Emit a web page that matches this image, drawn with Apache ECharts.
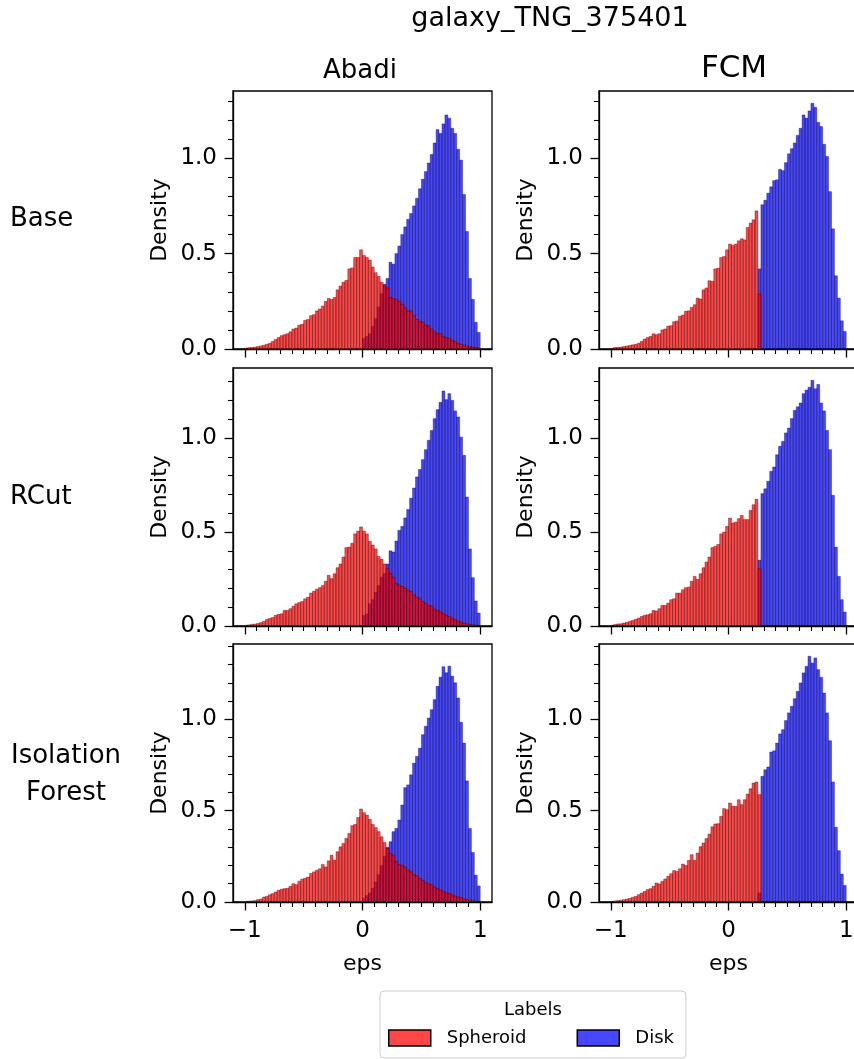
<!DOCTYPE html>
<html>
<head>
<meta charset="utf-8">
<script src="https://cdn.jsdelivr.net/npm/echarts@6/dist/echarts.min.js"></script>
<style>
  html, body { margin: 0; padding: 0; background: #ffffff; }
  #chart { width: 854px; height: 1059px; }
</style>
</head>
<body>
<div id="chart"></div>
<script>
// ---- histogram binning (eps from -1 to 1, 80 bins) ----
const BIN_MIN = -1;
const BIN_WIDTH = 0.025;

const figureTitle = 'galaxy_TNG_375401';
const methodNames = ['Abadi', 'FCM'];
const rowNames = ['Base', 'RCut', 'Isolation\nForest'];
const labelNames = ['Spheroid', 'Disk'];
const xTickValues = [-1, 0, 1];
const yTickValues = [0, 0.5, 1.0];

// ---- densities per bin; each series lists its first bin index ----
// Abadi / Base
const abadiBaseSpheroidFirst = 0;
const abadiBaseSpheroid = [
  0.005, 0.007, 0.008, 0.01, 0.013, 0.016, 0.02, 0.025, 0.03, 0.04,
  0.05, 0.06, 0.07, 0.075, 0.08, 0.09, 0.105, 0.11, 0.125, 0.13,
  0.15, 0.155, 0.175, 0.18, 0.2, 0.21, 0.225, 0.25, 0.265, 0.26,
  0.27, 0.31, 0.33, 0.35, 0.36, 0.42, 0.425, 0.48, 0.48, 0.52,
  0.49, 0.48, 0.466, 0.43, 0.40, 0.38, 0.35, 0.33, 0.32, 0.27,
  0.265, 0.26, 0.25, 0.235, 0.215, 0.2, 0.2, 0.175, 0.155, 0.145,
  0.14, 0.125, 0.12, 0.105, 0.09, 0.08, 0.08, 0.065, 0.06, 0.055,
  0.045, 0.04, 0.03, 0.025, 0.02, 0.015, 0.012, 0.01, 0.007, 0.004
];
const abadiBaseDiskFirst = 40;
const abadiBaseDisk = [
  0.055, 0.065, 0.08, 0.12, 0.16, 0.22, 0.29, 0.34, 0.37, 0.455,
  0.445, 0.50, 0.54, 0.60, 0.64, 0.68, 0.71, 0.75, 0.79, 0.84,
  0.89, 0.93, 0.975, 1.02, 1.08, 1.15, 1.13, 1.18, 1.227, 1.21,
  1.157, 1.13, 1.047, 0.99, 0.81, 0.616, 0.37, 0.26, 0.14, 0.087
];
// FCM / Base
const fcmBaseSpheroidFirst = 0;
const fcmBaseSpheroid = [
  0.003, 0.008, 0.009, 0.01, 0.013, 0.016, 0.019, 0.022, 0.025, 0.03,
  0.04, 0.052, 0.06, 0.066, 0.08, 0.075, 0.08, 0.1, 0.105, 0.12,
  0.122, 0.143, 0.147, 0.172, 0.178, 0.198, 0.2, 0.218, 0.232, 0.267,
  0.262, 0.31, 0.32, 0.358, 0.355, 0.42, 0.424, 0.48, 0.485, 0.52,
  0.55, 0.543, 0.55, 0.567, 0.578, 0.572, 0.637, 0.66, 0.677, 0.724,
  0.288
];
const fcmBaseDiskFirst = 50;
const fcmBaseDisk = [
  0.42, 0.756, 0.78, 0.817, 0.85, 0.883, 0.887, 0.942, 0.935, 0.977,
  1.023, 1.05, 1.08, 1.12, 1.157, 1.227, 1.21, 1.248, 1.288, 1.267,
  1.188, 1.166, 1.073, 1.009, 0.825, 0.63, 0.384, 0.267, 0.148, 0.092
];
// Abadi / RCut
const abadiRCutSpheroidFirst = 0;
const abadiRCutSpheroid = [
  0.004, 0.006, 0.009, 0.01, 0.014, 0.018, 0.025, 0.035, 0.04, 0.045,
  0.057, 0.062, 0.065, 0.083, 0.083, 0.092, 0.105, 0.118, 0.125, 0.13,
  0.145, 0.154, 0.175, 0.185, 0.196, 0.204, 0.215, 0.238, 0.27, 0.252,
  0.278, 0.31, 0.33, 0.367, 0.417, 0.42, 0.44, 0.49, 0.505, 0.527,
  0.505, 0.49, 0.45, 0.43, 0.41, 0.37, 0.355, 0.33, 0.305, 0.278,
  0.26, 0.225, 0.218, 0.21, 0.2, 0.19, 0.184, 0.165, 0.154, 0.145,
  0.13, 0.12, 0.11, 0.105, 0.09, 0.083, 0.075, 0.066, 0.057, 0.05,
  0.042, 0.034, 0.025, 0.02, 0.014, 0.011, 0.008, 0.007, 0.005, 0.003
];
const abadiRCutDiskFirst = 40;
const abadiRCutDisk = [
  0.057, 0.065, 0.119, 0.14, 0.18, 0.215, 0.26, 0.278, 0.33, 0.40,
  0.394, 0.452, 0.509, 0.53, 0.575, 0.62, 0.68, 0.734, 0.793, 0.833,
  0.885, 0.938, 0.988, 1.04, 1.103, 1.151, 1.19, 1.25, 1.204, 1.236,
  1.2, 1.144, 1.112, 1.005, 0.908, 0.686, 0.41, 0.257, 0.133, 0.069
];
// FCM / RCut
const fcmRCutSpheroidFirst = 0;
const fcmRCutSpheroid = [
  0.004, 0.008, 0.011, 0.012, 0.016, 0.02, 0.025, 0.03, 0.036, 0.042,
  0.051, 0.057, 0.06, 0.065, 0.083, 0.08, 0.092, 0.11, 0.11, 0.122,
  0.14, 0.145, 0.175, 0.175, 0.193, 0.204, 0.207, 0.238, 0.264, 0.248,
  0.278, 0.31, 0.34, 0.367, 0.417, 0.424, 0.434, 0.49, 0.5, 0.53,
  0.574, 0.548, 0.553, 0.571, 0.589, 0.566, 0.566, 0.615, 0.645, 0.674,
  0.305
];
const fcmRCutDiskFirst = 50;
const fcmRCutDisk = [
  0.35, 0.704, 0.73, 0.77, 0.823, 0.846, 0.911, 0.956, 0.982, 1.027,
  1.053, 1.103, 1.147, 1.166, 1.186, 1.236, 1.255, 1.27, 1.307, 1.262,
  1.285, 1.186, 1.144, 1.04, 0.938, 0.695, 0.42, 0.264, 0.14, 0.074
];
// Abadi / Isolation Forest
const abadiIsoSpheroidFirst = 0;
const abadiIsoSpheroid = [
  0.003, 0.005, 0.006, 0.008, 0.013, 0.016, 0.027, 0.031, 0.04, 0.046,
  0.055, 0.064, 0.07, 0.073, 0.075, 0.086, 0.1, 0.095, 0.114, 0.125,
  0.13, 0.137, 0.156, 0.165, 0.174, 0.182, 0.205, 0.192, 0.225, 0.256,
  0.229, 0.275, 0.302, 0.32, 0.348, 0.375, 0.418, 0.425, 0.463, 0.509,
  0.489, 0.476, 0.452, 0.425, 0.407, 0.385, 0.357, 0.326, 0.293, 0.266,
  0.256, 0.22, 0.205, 0.2, 0.192, 0.174, 0.165, 0.15, 0.143, 0.128,
  0.118, 0.106, 0.1, 0.095, 0.082, 0.073, 0.066, 0.059, 0.051, 0.046,
  0.04, 0.033, 0.028, 0.024, 0.018, 0.013, 0.01, 0.007, 0.005, 0.003
];
const abadiIsoDiskFirst = 40;
const abadiIsoDisk = [
  0.02, 0.035, 0.05, 0.075, 0.11, 0.15, 0.2, 0.25, 0.3, 0.33,
  0.385, 0.403, 0.449, 0.531, 0.626, 0.641, 0.696, 0.76, 0.797, 0.842,
  0.916, 0.962, 1.007, 1.053, 1.108, 1.181, 1.231, 1.288, 1.255, 1.291,
  1.236, 1.2, 1.117, 0.984, 0.87, 0.663, 0.403, 0.271, 0.147, 0.088
];
// FCM / Isolation Forest
const fcmIsoSpheroidFirst = 0;
const fcmIsoSpheroid = [
  0.004, 0.006, 0.008, 0.01, 0.013, 0.016, 0.02, 0.026, 0.031, 0.04,
  0.049, 0.058, 0.068, 0.073, 0.086, 0.104, 0.099, 0.113, 0.126, 0.141,
  0.155, 0.172, 0.168, 0.182, 0.208, 0.2, 0.228, 0.259, 0.228, 0.268,
  0.303, 0.323, 0.347, 0.372, 0.412, 0.427, 0.429, 0.469, 0.511, 0.505,
  0.542, 0.524, 0.524, 0.56, 0.533, 0.56, 0.591, 0.62, 0.651, 0.657,
  0.588
];
const fcmIsoDiskFirst = 50;
const fcmIsoDisk = [
  0.05, 0.688, 0.724, 0.739, 0.821, 0.828, 0.87, 0.92, 0.943, 0.993,
  1.035, 1.071, 1.113, 1.153, 1.199, 1.254, 1.29, 1.345, 1.308, 1.336,
  1.272, 1.23, 1.144, 1.035, 0.883, 0.657, 0.409, 0.281, 0.153, 0.091
];

// panels in row-major order: [row][column]
const panels = [
  [
    { spheroid: abadiBaseSpheroid, spheroidFirst: abadiBaseSpheroidFirst, disk: abadiBaseDisk, diskFirst: abadiBaseDiskFirst },
    { spheroid: fcmBaseSpheroid, spheroidFirst: fcmBaseSpheroidFirst, disk: fcmBaseDisk, diskFirst: fcmBaseDiskFirst }
  ],
  [
    { spheroid: abadiRCutSpheroid, spheroidFirst: abadiRCutSpheroidFirst, disk: abadiRCutDisk, diskFirst: abadiRCutDiskFirst },
    { spheroid: fcmRCutSpheroid, spheroidFirst: fcmRCutSpheroidFirst, disk: fcmRCutDisk, diskFirst: fcmRCutDiskFirst }
  ],
  [
    { spheroid: abadiIsoSpheroid, spheroidFirst: abadiIsoSpheroidFirst, disk: abadiIsoDisk, diskFirst: abadiIsoDiskFirst },
    { spheroid: fcmIsoSpheroid, spheroidFirst: fcmIsoSpheroidFirst, disk: fcmIsoDisk, diskFirst: fcmIsoDiskFirst }
  ]
];

// ---- layout & style ----
const FONT = 'DejaVu Sans';
const GRID_LEFT = [233, 599];
const GRID_WIDTH = 259;
const ROW_TOP = [91, 368, 644];
const GRID_HEIGHT = 258;
const X_MIN = -1.1, X_MAX = 1.1;
const AXIS_LW = 1.3;
const MAJOR_TICK = 8.5, MINOR_TICK = 5;
const SPHEROID_FILL = 'rgba(255, 0, 0, 0.72)';
const DISK_FILL = 'rgba(0, 0, 255, 0.72)';
const BAR_EDGE = 'rgba(0, 0, 0, 0.55)';

const xMinorTicks = [];
for (let k = -10; k <= 10; k++) if (k % 10 !== 0) xMinorTicks.push(k / 10);

function yMinorTicks(max) {
  const out = [];
  for (let k = 1; k / 10 <= max; k++) if (k % 5 !== 0) out.push(k / 10);
  return out;
}

function toBins(values, first) {
  return values.map((v, i) => {
    const lo = BIN_MIN + (first + i) * BIN_WIDTH;
    return [lo, lo + BIN_WIDTH, v];
  });
}

function barRenderer(fill) {
  return function (params, api) {
    const p0 = api.coord([api.value(0), 0]);
    const p1 = api.coord([api.value(1), api.value(2)]);
    return {
      type: 'rect',
      shape: { x: p0[0], y: p1[1], width: p1[0] - p0[0], height: p0[1] - p1[1] },
      style: { fill: fill, stroke: BAR_EDGE, lineWidth: 0.6 }
    };
  };
}

function fmtX(v) {
  return v < 0 ? '\u2212' + Math.abs(v) : String(v);
}

const grids = [], xAxes = [], yAxes = [], series = [];
const tickStyle = { color: '#000', width: AXIS_LW };

panels.forEach((row, r) => {
  // y limits are shared along a row, with a 5% top margin
  let rowMax = 0;
  row.forEach(p => { rowMax = Math.max(rowMax, ...p.spheroid, ...p.disk); });
  const yMax = rowMax * 1.05;
  const isBottom = r === panels.length - 1;

  row.forEach((p, c) => {
    const g = grids.length;
    grids.push({
      left: GRID_LEFT[c], top: ROW_TOP[r], width: GRID_WIDTH, height: GRID_HEIGHT,
      outerBoundsMode: 'none', containLabel: false,
      show: true, borderColor: '#000', borderWidth: AXIS_LW, backgroundColor: 'transparent'
    });
    // major x axis
    xAxes.push({
      type: 'value', gridIndex: g, position: 'bottom', min: X_MIN, max: X_MAX,
      axisLine: { show: true, onZero: false, lineStyle: tickStyle },
      axisTick: { show: true, customValues: xTickValues, length: MAJOR_TICK, lineStyle: tickStyle },
      axisLabel: {
        show: isBottom, customValues: xTickValues, formatter: fmtX, hideOverlap: false,
        fontFamily: FONT, fontSize: 23, color: '#000', margin: 18
      },
      splitLine: { show: false },
      name: isBottom ? 'eps' : '', nameLocation: 'middle', nameGap: 51,
      nameTextStyle: { fontFamily: FONT, fontSize: 22, color: '#000' }
    });
    // minor x ticks
    xAxes.push({
      type: 'value', gridIndex: g, position: 'bottom', min: X_MIN, max: X_MAX,
      axisLine: { show: false, onZero: false },
      axisTick: { show: true, customValues: xMinorTicks, length: MINOR_TICK, lineStyle: { color: '#000', width: 1.1 } },
      axisLabel: { show: false },
      splitLine: { show: false }
    });
    // major y axis
    yAxes.push({
      type: 'value', gridIndex: g, position: 'left', min: 0, max: yMax,
      axisLine: { show: true, onZero: false, lineStyle: tickStyle },
      axisTick: { show: true, customValues: yTickValues, length: MAJOR_TICK, lineStyle: tickStyle },
      axisLabel: {
        customValues: yTickValues, formatter: v => v.toFixed(1),
        fontFamily: FONT, fontSize: 23, color: '#000', margin: 16
      },
      splitLine: { show: false },
      name: 'Density', nameLocation: 'middle', nameGap: 62,
      nameTextStyle: { fontFamily: FONT, fontSize: 22, color: '#000' }
    });
    // minor y ticks
    yAxes.push({
      type: 'value', gridIndex: g, position: 'left', min: 0, max: yMax,
      axisLine: { show: false, onZero: false },
      axisTick: { show: true, customValues: yMinorTicks(yMax), length: MINOR_TICK, lineStyle: { color: '#000', width: 1.1 } },
      axisLabel: { show: false },
      splitLine: { show: false }
    });

    // disk drawn first, spheroid layered on top
    series.push({
      type: 'custom', name: labelNames[1], xAxisIndex: 2 * g, yAxisIndex: 2 * g,
      data: toBins(p.disk, p.diskFirst), encode: { x: [0, 1], y: 2 },
      itemStyle: { color: DISK_FILL }, renderItem: barRenderer(DISK_FILL), silent: true
    });
    series.push({
      type: 'custom', name: labelNames[0], xAxisIndex: 2 * g, yAxisIndex: 2 * g,
      data: toBins(p.spheroid, p.spheroidFirst), encode: { x: [0, 1], y: 2 },
      itemStyle: { color: SPHEROID_FILL }, renderItem: barRenderer(SPHEROID_FILL), silent: true
    });
  });
});

const option = {
  animation: false,
  backgroundColor: '#ffffff',
  grid: grids,
  xAxis: xAxes,
  yAxis: yAxes,
  series: series,
  legend: {
    left: 380, top: 991,
    padding: [38, 12, 11, 8],
    itemWidth: 42, itemHeight: 16, itemGap: 50,
    borderColor: '#cccccc', borderWidth: 1, borderRadius: 4,
    backgroundColor: '#ffffff',
    textStyle: { fontFamily: FONT, fontSize: 18, color: '#000', padding: [0, 0, 0, 11] },
    data: [
      { name: labelNames[0], icon: 'rect', itemStyle: { color: SPHEROID_FILL, borderColor: '#000', borderWidth: 1.5 } },
      { name: labelNames[1], icon: 'rect', itemStyle: { color: DISK_FILL, borderColor: '#000', borderWidth: 1.5 } }
    ],
    selectedMode: false
  },
  graphic: [
    { type: 'text', x: 550, y: 5, style: { text: figureTitle, font: '27px "DejaVu Sans"', fill: '#000', align: 'center' } },
    { type: 'text', x: 360, y: 58, style: { text: methodNames[0], font: '26px "DejaVu Sans"', fill: '#000', align: 'center' } },
    { type: 'text', x: 734, y: 53, style: { text: methodNames[1], font: '31px "DejaVu Sans"', fill: '#000', align: 'center' } },
    { type: 'text', x: 10, y: 206, style: { text: rowNames[0], font: '26px "DejaVu Sans"', fill: '#000', align: 'left' } },
    { type: 'text', x: 10, y: 484, style: { text: rowNames[1], font: '26px "DejaVu Sans"', fill: '#000', align: 'left' } },
    { type: 'text', x: 66, y: 738, style: { text: rowNames[2], font: '26px "DejaVu Sans"', fill: '#000', align: 'center', lineHeight: 37 } },
    { type: 'text', x: 533, y: 1001, style: { text: 'Labels', font: '18px "DejaVu Sans"', fill: '#000', align: 'center' }, z: 100 }
  ]
};

const chart = echarts.init(document.getElementById('chart'), null, { renderer: 'canvas' });
chart.setOption(option);
</script>
</body>
</html>
